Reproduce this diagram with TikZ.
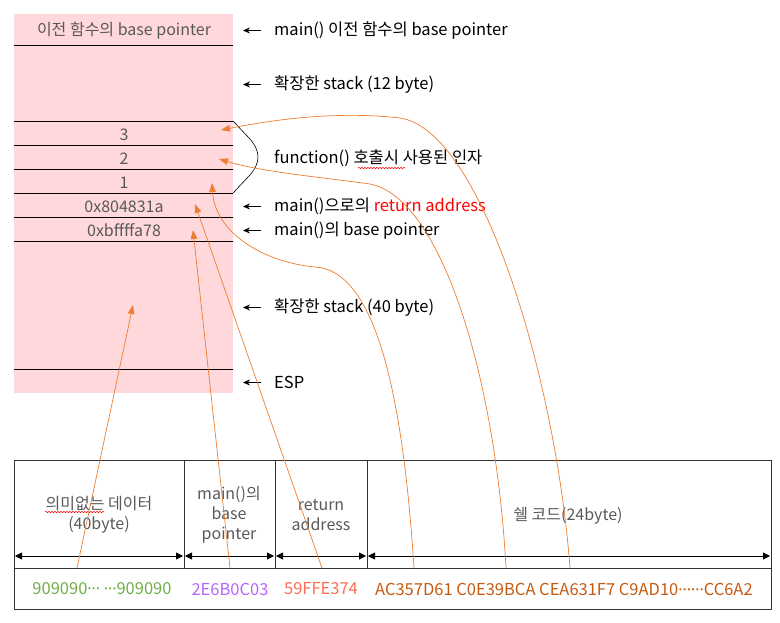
\documentclass[tikz,border=0pt]{standalone}
\usepackage{fontspec}
\setmainfont{Noto Sans CJK KR}
\newfontfamily\dvfont{DejaVu Sans}
\usetikzlibrary{arrows.meta,decorations.pathmorphing}
\definecolor{stackpink}{RGB}{255,216,219}
\definecolor{orangeln}{RGB}{237,125,49}
\definecolor{celltext}{RGB}{89,89,89}
\definecolor{valgreen}{RGB}{112,173,71}
\definecolor{valpurple}{RGB}{180,102,255}
\definecolor{valsalmon}{RGB}{250,110,85}
\definecolor{valbrown}{RGB}{197,90,17}
\newcommand{\mdots}{{\dvfont\kern-0.5pt·\kern-1pt·\kern-1pt·\kern-0.5pt}}
\tikzset{
  rowline/.style={draw=black, line width=0.8pt},
  celltxt/.style={text=celltext, font=\fontsize{16}{18}\selectfont, inner sep=0pt, yshift=-1.5pt},
  lbl/.style={anchor=west, font=\fontsize{16.5}{19}\selectfont, inner sep=0pt, yshift=-1.5pt},
  ptr/.style={-{Stealth[length=7pt,width=6pt]}, line width=0.8pt},
  link/.style={draw=orangeln, line width=0.7pt, -{Triangle[length=9pt,width=6.5pt]}},
  bidir/.style={{Triangle[length=7pt,width=7pt]}-{Triangle[length=7pt,width=7pt]}, line width=0.9pt},
  tabline/.style={draw=black!80, line width=1pt},
  btxt/.style={text=celltext, font=\fontsize{16}{20}\selectfont, align=center, inner sep=0pt, yshift=-1pt},
  vtxt/.style={font=\fontsize{16.5}{19}\selectfont, inner sep=0pt, yshift=-1pt},
  squig/.style={draw=red, line width=0.5pt, decorate, decoration={snake, amplitude=0.7pt, segment length=3pt}}
}
\begin{document}
\begin{tikzpicture}[x=1pt,y=-1pt]
\useasboundingbox (0,0) rectangle (780,622);
% stack
\fill[stackpink] (14,14) rectangle (233,393);
\foreach \yy in {45,121,145,169,193,217,241,369}
  \draw[rowline] (14,\yy) -- (233,\yy);
\node[celltxt] (sbp) at (124,29) {이전 함수의 base pointer};
\node[celltxt] (s3) at (124,133) {3};
\node[celltxt] (s2) at (124,157) {2};
\node[celltxt] (s1) at (124,181) {1};
\node[celltxt] (sret) at (124,205) {0x804831a};
\node[celltxt] (sebp) at (124,229) {0xbffffa78};
\coordinate (sbuf) at (133,305);
% right labels
\node[lbl] (l1) at (274,29) {main() 이전 함수의 base pointer};
\node[lbl] (l2) at (274,83) {확장한 stack (12 byte)};
\node[lbl] (l3) at (274,157) {function() 호출시 사용된 인자};
\node[lbl] (l4) at (274,205) {main()으로의 \textcolor{red}{return address}};
\node[lbl] (l5) at (274,229) {main()의 base pointer};
\node[lbl] (l6) at (274,306) {확장한 stack (40 byte)};
\node[lbl] (l7) at (274,381) {ESP};
\foreach \n in {l1,l2,l4,l5,l6,l7}
  \draw[ptr] ([xshift=-13pt]\n.west) -- ([xshift=-31pt]\n.west);
% brace
\draw[line width=0.6pt] (233,121) -- (249,138) .. controls (261,151) and (261,163) .. (249,176) -- (233,193);
\draw[squig] (358,168) -- (405,168);
% table
\draw[tabline] (14,460) rectangle (771,609);
\draw[tabline] (14,568) -- (771,568);
\foreach \xx in {184,275,367}
  \draw[tabline] (\xx,460) -- (\xx,568);
\draw[bidir] (15,556) -- (183,556);
\draw[bidir] (185,556) -- (274,556);
\draw[bidir] (276,556) -- (366,556);
\draw[bidir] (368,556) -- (770,556);
\node[btxt] (c1) at (99,514) {의미없는 데이터\\(40byte)};
\node[btxt] (c2) at (229,514) {main()의\\base\\pointer};
\node[btxt] (c3) at (321,514) {return\\address};
\node[btxt] (c4) at (568,515) {쉘 코드(24byte)};
\draw[squig] (45,512) -- (104,512);
\node[vtxt, text=valgreen] (v1) at (102,588) {909090\mdots{} \mdots909090};
\node[vtxt, text=valpurple] (v2) at (230,588) {2E6B0C03};
\node[vtxt, text=valsalmon] (v3) at (321,588) {59FFE374};
\node[vtxt, text=valbrown, anchor=west] (v4) at (375,588) {AC357D61 C0E39BCA CEA631F7 C9AD10\mdots\mdots CC6A2};
% link starts
\coordinate (p1) at (77,568);
\coordinate (p2) at (230,568);
\coordinate (p3) at (322,568);
\coordinate (p4) at (414,568);
\coordinate (p5) at (506,568);
\coordinate (p6) at (570,568);
\coordinate (t4) at (212,183);
\coordinate (t5) at (219,159);
\coordinate (t6) at (221,130);
\coordinate (t2) at (193,230);
\coordinate (t3) at (195,204);
% orange links
\draw[link] (p1) -- (sbuf);
\draw[link] (p2) -- (t2);
\draw[link] (p3) -- (t3);
\draw[link] (p4) .. controls (402,380) and (372,270) .. (315,267) .. controls (262,262) and (215,232) .. (t4);
\draw[link] (p5) .. controls (496,380) and (442,198) .. (370,184) .. controls (320,177) and (262,172) .. (t5);
\draw[link] (p6) .. controls (556,380) and (482,130) .. (400,118) .. controls (330,110) and (262,122) .. (t6);
\end{tikzpicture}
\end{document}
